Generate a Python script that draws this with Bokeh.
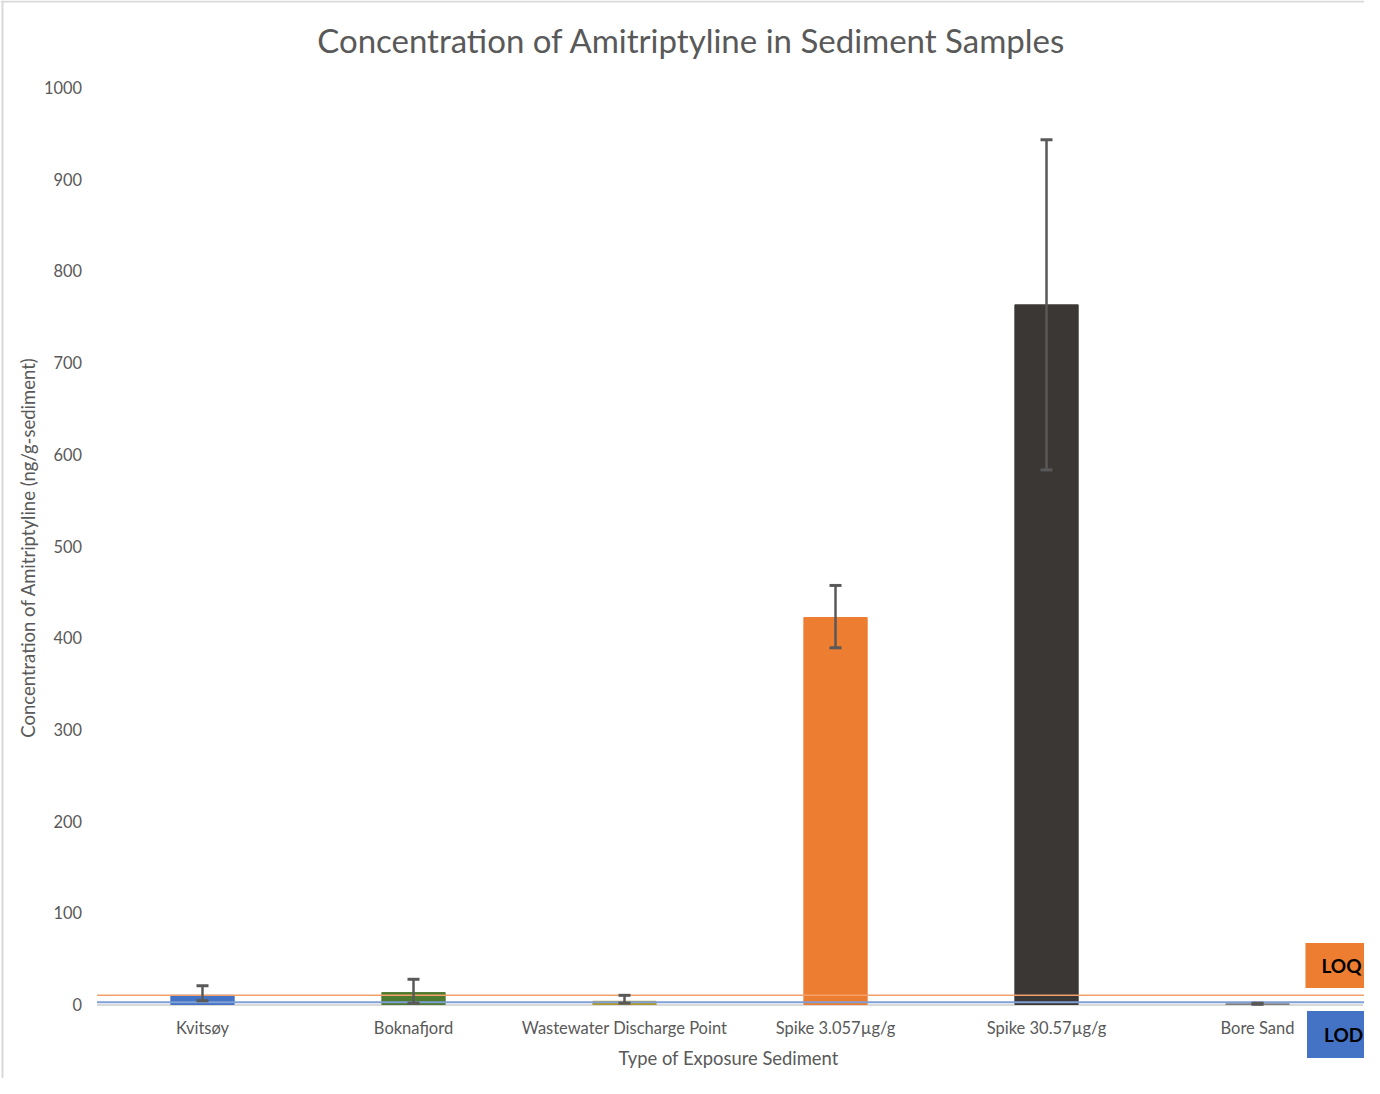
import math
from bokeh.plotting import figure
from bokeh.models import (ColumnDataSource, Whisker, TeeHead, Label, Span,
                          Range1d, FixedTicker, LinearAxis)
from bokeh.embed import file_html
from bokeh.resources import INLINE

# ---- data ----
categories = ["Kvitsøy", "Boknafjord", "Wastewater Discharge Point",
              "Spike 3.057µg/g", "Spike 30.57µg/g", "Bore Sand"]
concentration = [10, 13, 3.5, 422, 763, 0.8]
err_plus = [10.5, 14.5, 6.5, 35, 180, 0.6]
err_minus = [6, 11.5, 2, 33, 180, 0.6]
bar_colors = ["#4472C4", "#4C7A2E", "#AE9A2C", "#ED7D31", "#3B3734", "#7F7F7F"]
loq_value = 10
lod_value = 2.5
y_ticks = [0, 100, 200, 300, 400, 500, 600, 700, 800, 900, 1000]

FONT = "Lato"
GRAY = "#595959"

xs = list(range(len(categories)))
x_lo = -0.5
x_hi = len(categories) - 0.5

src = ColumnDataSource(dict(
    x=xs,
    val=concentration,
    upper=[v + e for v, e in zip(concentration, err_plus)],
    lower=[v - e for v, e in zip(concentration, err_minus)],
    color=bar_colors,
))

# frame covers the whole canvas; axes are placed at fixed data locations
p = figure(x_range=Range1d(-0.9573, 5.507),
           y_range=Range1d(-80.7, 1094.9),
           width=1364, height=1078,
           output_backend="svg", toolbar_location=None,
           x_axis_location=None, y_axis_location=None,
           min_border_left=0, min_border_right=0,
           min_border_top=0, min_border_bottom=0)

p.outline_line_color = None
p.xgrid.grid_line_color = None
p.ygrid.grid_line_color = None
p.background_fill_color = "white"
p.border_fill_color = "white"

# chart-area border (left and top edges)
p.add_layout(Span(location=-0.9478, dimension="height", line_color="#D9D9D9", line_width=2))
p.add_layout(Span(location=1093.8, dimension="width", line_color="#D9D9D9", line_width=2))

# axis baseline
p.segment(x0=[x_lo], y0=[-0.5], x1=[x_hi], y1=[-0.5], line_color="#D9D9D9", line_width=2)

p.vbar(x="x", top="val", width=0.3, color="color", source=src)

# LOD and LOQ lines drawn over the bars
p.segment(x0=[x_lo], y0=[lod_value], x1=[x_hi + 0.05], y1=[lod_value], line_color="#7F9FD6", line_width=2)
p.segment(x0=[x_lo], y0=[loq_value], x1=[x_hi + 0.05], y1=[loq_value], line_color="#F4A06A", line_width=1.5)

w = Whisker(base="x", upper="upper", lower="lower", source=src, level="overlay",
            line_color=GRAY, line_width=2.5,
            upper_head=TeeHead(size=12, line_color=GRAY, line_width=3),
            lower_head=TeeHead(size=12, line_color=GRAY, line_width=3))
p.add_layout(w)

# x axis at y = 0
xaxis = LinearAxis(fixed_location=0,
                   ticker=FixedTicker(ticks=xs),
                   major_label_overrides={i: c for i, c in zip(xs, categories)})
xaxis.axis_line_color = None
xaxis.major_tick_line_color = None
xaxis.minor_tick_line_color = None
xaxis.major_tick_out = 0
xaxis.minor_tick_out = 0
xaxis.major_label_text_font = FONT
xaxis.major_label_text_font_size = "16.5px"
xaxis.major_label_text_color = GRAY
xaxis.major_label_standoff = 14
p.add_layout(xaxis, "below")

# y axis at x = left edge of first category
yaxis = LinearAxis(fixed_location=x_lo, ticker=FixedTicker(ticks=y_ticks))
yaxis.axis_line_color = None
yaxis.major_tick_line_color = None
yaxis.minor_tick_line_color = None
yaxis.major_tick_out = 0
yaxis.minor_tick_out = 0
yaxis.major_label_text_font = FONT
yaxis.major_label_text_font_size = "16.4px"
yaxis.major_label_text_color = GRAY
yaxis.major_label_standoff = 15
p.add_layout(yaxis, "left")

# titles
p.add_layout(Label(x=2.318, y=1052.3, text="Concentration of Amitriptyline in Sediment Samples",
                   text_align="center", text_baseline="middle",
                   text_font=FONT, text_font_size="33px", text_color=GRAY))
p.add_layout(Label(x=2.493, y=-57.8, text="Type of Exposure Sediment",
                   text_align="center", text_baseline="middle",
                   text_font=FONT, text_font_size="18.4px", text_color=GRAY))
p.add_layout(Label(x=-0.829, y=498.4, text="Concentration of Amitriptyline (ng/g-sediment)",
                   angle=math.pi / 2, text_align="center", text_baseline="middle",
                   text_font=FONT, text_font_size="18.5px", text_color=GRAY))

# LOQ / LOD tags
p.add_layout(Label(x=5.398, y=42.5, text="LOQ", text_align="center", text_baseline="middle",
                   text_font=FONT, text_font_size="19px", text_font_style="bold",
                   text_color="black", background_fill_color="#ED7D31",
                   padding=dict(left=16, right=16, top=11, bottom=11)))
p.add_layout(Label(x=5.408, y=-32.7, text="LOD", text_align="center", text_baseline="middle",
                   text_font=FONT, text_font_size="19px", text_font_style="bold",
                   text_color="black", background_fill_color="#4472C4",
                   padding=dict(left=17, right=17, top=12, bottom=12)))

open("out.html", "w").write(file_html(p, INLINE))
